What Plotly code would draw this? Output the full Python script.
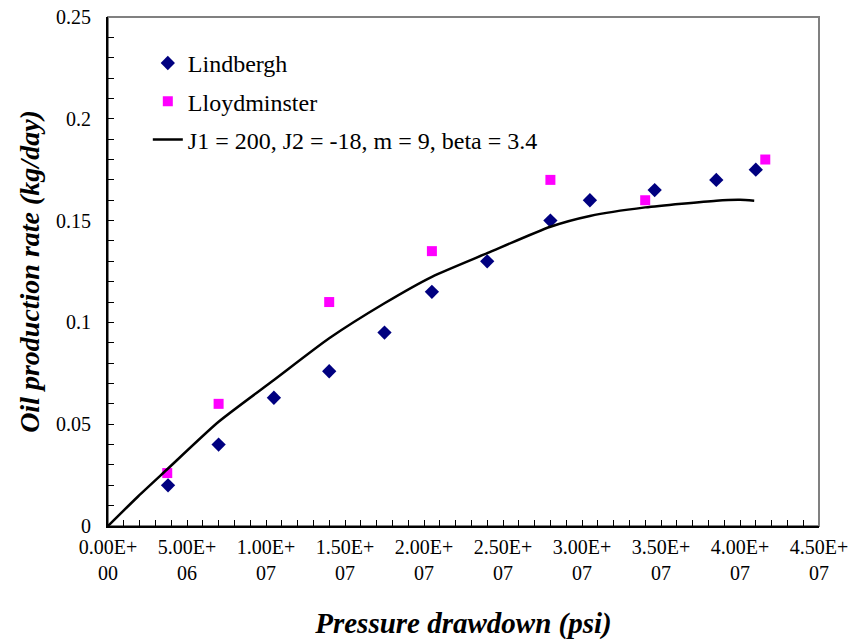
import plotly.graph_objects as go

# Data
lind_x = [3.8e6, 7.0e6, 10.5e6, 14.0e6, 17.5e6, 20.5e6, 24.0e6, 28.0e6, 30.5e6, 34.6e6, 38.5e6, 41.0e6]
lind_y = [0.020, 0.040, 0.063, 0.076, 0.095, 0.115, 0.130, 0.150, 0.160, 0.165, 0.170, 0.175]

lloyd_x = [3.75e6, 7.0e6, 14.0e6, 20.5e6, 28.0e6, 34.0e6, 41.6e6]
lloyd_y = [0.026, 0.060, 0.110, 0.135, 0.170, 0.160, 0.180]

fit_x = [0, 1.9e6, 3.7e6, 7.0e6, 10.5e6, 14.0e6, 17.5e6, 20.5e6, 24.0e6, 28.0e6, 30.5e6, 34.0e6, 38.5e6, 40.0e6, 40.9e6]
fit_y = [0, 0.0145, 0.0275, 0.0512, 0.0717, 0.0922, 0.1094, 0.1224, 0.134, 0.147, 0.1523, 0.1565, 0.1598, 0.1602, 0.1598]

x_tickvals = [0, 5e6, 1e7, 1.5e7, 2e7, 2.5e7, 3e7, 3.5e7, 4e7, 4.5e7]
x_ticktext = ["0.00E+<br>00", "5.00E+<br>06", "1.00E+<br>07", "1.50E+<br>07", "2.00E+<br>07",
              "2.50E+<br>07", "3.00E+<br>07", "3.50E+<br>07", "4.00E+<br>07", "4.50E+<br>07"]
y_tickvals = [0, 0.05, 0.1, 0.15, 0.2, 0.25]
y_ticktext = ["0", "0.05", "0.1", "0.15", "0.2", "0.25"]

font_family = "'Liberation Serif', 'Times New Roman', 'DejaVu Serif', serif"

fig = go.Figure()
fig.add_trace(go.Scatter(x=lind_x, y=lind_y, mode="markers", name="Lindbergh",
                         legendgroup="a",
                         marker=dict(symbol="diamond", size=11, color="#000080")))
fig.add_trace(go.Scatter(x=lloyd_x, y=lloyd_y, mode="markers", name="Lloydminster",
                         legendgroup="b",
                         marker=dict(symbol="square", size=10, color="#FF00FF")))
fig.add_trace(go.Scatter(x=fit_x, y=fit_y, mode="lines", name="J1 = 200, J2 = -18, m = 9, beta = 3.4",
                         legendgroup="c", line=dict(color="black", width=2.5, shape="spline", smoothing=0.6)))

fig.add_shape(type="rect", xref="x domain", yref="y domain", x0=0, x1=1, y0=0, y1=1,
              line=dict(color="#808080", width=2), layer="below")

fig.update_layout(
    width=852, height=644,
    margin=dict(l=108, r=33, t=17, b=118),
    paper_bgcolor="white", plot_bgcolor="white",
    font=dict(family=font_family, size=20, color="black"),
    showlegend=True,
    legend=dict(x=0.056, y=0.953, xanchor="left", yanchor="top",
                bgcolor="rgba(255,255,255,0)", font=dict(family=font_family, size=24),
                traceorder="grouped", tracegroupgap=4),
    xaxis=dict(range=[0, 4.5e7], tickvals=x_tickvals, ticktext=x_ticktext, automargin=False,
               showgrid=False, zeroline=False, showline=True, linecolor="black", linewidth=2,
               ticks="inside", ticklen=6, tickcolor="black", ticklabelstandoff=2,
               tickfont=dict(family=font_family, size=20),
               minor=dict(dtick=1e6, ticks="inside", ticklen=6, tickcolor="black", showgrid=False),
               title=dict(text="<b><i>Pressure drawdown (psi)</i></b>",
                          font=dict(family=font_family, size=29), standoff=30)),
    yaxis=dict(range=[0, 0.25], tickvals=y_tickvals, ticktext=y_ticktext, automargin=False,
               showgrid=False, zeroline=False, showline=True, linecolor="black", linewidth=2,
               ticks="inside", ticklen=6, tickcolor="black", ticklabelstandoff=11,
               tickfont=dict(family=font_family, size=20),
               minor=dict(dtick=0.01, ticks="inside", ticklen=6, tickcolor="black", showgrid=False),
               title=dict(text="<b><i>Oil production rate (kg/day)</i></b>",
                          font=dict(family=font_family, size=28), standoff=8)),
)

fig.write_html("out.html")
